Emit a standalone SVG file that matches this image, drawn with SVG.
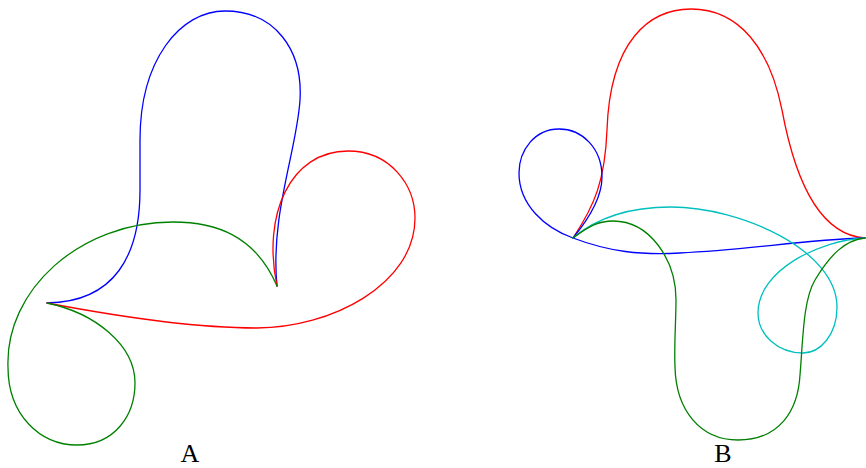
<svg xmlns="http://www.w3.org/2000/svg" width="866" height="468" viewBox="0 0 866 468">
<style>
.c{fill:none;stroke-width:1.3;stroke-linecap:round;stroke-linejoin:round}
.b{stroke:#0000ff}.r{stroke:#ff0000}.g{stroke:#008000}.y{stroke:#00bfbf}
.t{font-family:"Liberation Serif","Times New Roman",serif;font-size:26px;fill:#000;text-anchor:middle}
</style>
<rect width="866" height="468" fill="#fff"/>
<g id="panelA">
<path class="c b" d="M47,303 C115,302 140,255 140,190 L140,140 C140,60 180,11 225,11 C275,11 303,50 300,100 C297,150 270,215 277,286"/>
<path class="c r" d="M277,286 C262,215 290,151 348,151 C390,151 415,185 415,218 C415,285 330,328 257,328 C190,328 110,315 47,303"/>
<path class="c g" d="M277,286 C255,235 215,222 173,222 C80,222 5,290 8,367 C8,415 40,445 77,445 C115,445 135,415 135,383 C135,345 95,313 47,303"/>
<text class="t" x="190" y="462">A</text>
</g>
<g id="panelB">
<path class="c r" d="M573,238 C595,205 605,180 607,130 C610,40 650,9 691,9 C740,9 770,50 782,110 C795,180 820,235 865,238"/>
<path class="c b" d="M573,238 C592,215 602,195 602,177 C602,148 582,129 559,129 C535,129 519,150 519,173 C519,205 545,228 573,238 C610,252 640,255 680,253 C750,250 800,240 865,238"/>
<path class="c y" d="M573,238 C600,215 635,207 671,207 C740,207 837,250 837,307 C837,335 820,353 803,353 C778,353 758,335 758,313 C758,270 820,240 865,238"/>
<path class="c g" d="M573,238 C590,225 600,221 613,221 C650,221 676,260 676,300 C676,320 674,345 675,367 C676,410 700,440 738,440 C780,440 798,410 800,375 C803,340 803,300 815,280 C830,255 845,240 865,238"/>
<text class="t" x="723" y="462">B</text>
</g>
</svg>
